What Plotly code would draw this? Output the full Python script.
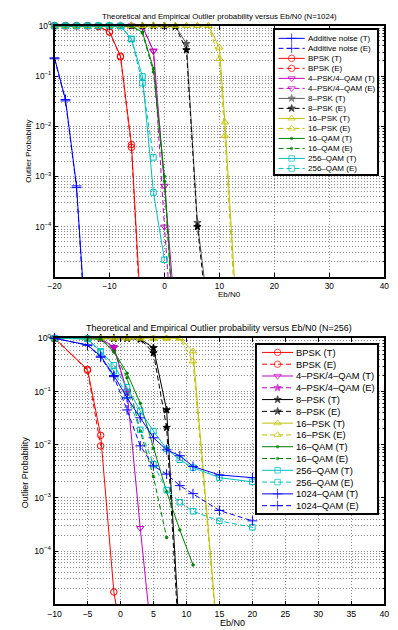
import plotly.graph_objects as go

W, H = 398, 630

# ---------------- data: top panel (N=1024) ----------------
t_noise_x = [-20, -18, -16, -14]
t_noise_T = [0.23, 0.034, 6.5e-4, 3e-7]
t_noise_E = [0.22, 0.032, 6.0e-4, 2e-7]

t_bpsk_x = [-20, -18, -16, -14, -12, -10, -8, -6, -4]
t_bpsk_T = [1, 1, 1, 1, 0.97, 0.76, 0.25, 4.3e-3, 5e-7]
t_bpsk_E = [1, 1, 1, 1, 0.97, 0.75, 0.24, 3.8e-3, 3e-7]

t_qpsk_x = [-20, -18, -16, -14, -12, -10, -8, -6, -4, -2, 0, 2]
t_qpsk_T = [1, 1, 1, 1, 1, 1, 1, 1, 0.97, 0.32, 6.5e-4, 1.5e-6]
t_qpsk_E = [1, 1, 1, 1, 1, 1, 1, 1, 0.96, 0.31, 1.0e-4, 1e-7]

t_psk8_x = [-20, -18, -16, -14, -12, -10, -8, -6, -4, -2, 0, 2, 4, 6, 8]
t_psk8_T = [1, 1, 1, 1, 1, 1, 1, 1, 1, 1, 1, 0.98, 0.44, 1.2e-4, 2e-6]
t_psk8_E = [1, 1, 1, 1, 1, 1, 1, 1, 1, 1, 1, 0.97, 0.33, 1.0e-4, 1e-6]

t_psk16_x = [-20, -18, -16, -14, -12, -10, -8, -6, -4, -2, 0, 2, 4, 6, 8, 10, 11, 14]
t_psk16_T = [1, 1, 1, 1, 1, 1, 1, 1, 1, 1, 1, 1, 1, 1, 1, 0.37, 0.012, 4.5e-8]
t_psk16_E = [1, 1, 1, 1, 1, 1, 1, 1, 1, 1, 1, 1, 1, 1, 1, 0.22, 6.5e-3, 2e-8]

t_qam16_x = [-20, -18, -16, -14, -12, -10, -8, -6, -4, -2, 0, 2]
t_qam16_T = [1, 1, 1, 1, 1, 1, 1, 0.99, 0.75, 0.14, 1.0e-3, 3e-7]
t_qam16_E = [1, 1, 1, 1, 1, 1, 1, 0.99, 0.72, 0.12, 8.0e-4, 2e-7]

t_qam256_xT = [-20, -18, -16, -14, -12, -10, -8, -6, -4, -2, 0]
t_qam256_T = [1, 1, 1, 1, 1, 1, 0.99, 0.55, 0.098, 4.8e-4, 2.2e-5]
t_qam256_xE = [-20, -18, -16, -14, -12, -10, -8, -6, -4, -2]
t_qam256_E = [1, 1, 1, 1, 1, 1, 0.99, 0.54, 0.072, 2.4e-3]

# ---------------- data: bottom panel (N=256) ----------------
b_x = [-10, -5, -3, -1, 1, 3, 5, 7, 9, 11, 15, 20]

b_bpsk_xT = [-10, -5, -3, -1, 1]
b_bpsk_T = [1, 0.26, 0.015, 1.7e-5, 6e-7]
b_bpsk_xE = [-10, -5, -3]
b_bpsk_E = [1, 0.25, 0.0095]

b_qpsk_xT = [-10, -5, -3, -1, 1, 3, 5]
b_qpsk_T = [1, 1, 0.99, 0.68, 0.10, 2.7e-4, 1.1e-6]
b_qpsk_xE = [-10, -5, -3, -1, 1]
b_qpsk_E = [1, 1, 0.99, 0.66, 0.095]

b_psk8_x = [-10, -5, -3, -1, 1, 3, 5, 7, 9]
b_psk8_T = [1, 1, 1, 1, 1, 0.97, 0.66, 0.045, 2e-6]
b_psk8_E = [1, 1, 1, 1, 1, 0.96, 0.53, 0.021, 1e-6]

b_psk16_x = [-10, -5, -3, -1, 1, 3, 5, 7, 9, 11, 15]
b_psk16_T = [1, 1, 1, 1, 1, 1, 1, 1, 1, 0.57, 1e-6]
b_psk16_E = [1, 1, 1, 1, 1, 1, 1, 1, 1, 0.37, 8e-7]

b_qam16_xT = [-10, -5, -3, -1, 1, 3, 5, 7, 9, 11]
b_qam16_T = [1, 1, 0.97, 0.57, 0.22, 0.06, 0.0085, 1.3e-3, 2.5e-4, 5.5e-5]
b_qam16_xE = [-10, -5, -3, -1, 1, 3, 5, 7]
b_qam16_E = [1, 1, 0.97, 0.55, 0.18, 0.018, 2.5e-3, 1.8e-4]

b_qam256_T = [1, 0.98, 0.57, 0.31, 0.12, 0.043, 0.018, 0.0083, 0.0052, 0.0037, 0.0024, 0.0020]
b_qam256_E = [1, 0.97, 0.55, 0.24, 0.083, 0.019, 0.0043, 0.0014, 8.3e-4, 5.6e-4, 3.7e-4, 2.8e-4]

b_qam1024_T = [1, 0.75, 0.46, 0.20, 0.076, 0.032, 0.0135, 0.0080, 0.0062, 0.0039, 0.0027, 0.0024]
b_qam1024_E = [1, 0.74, 0.44, 0.19, 0.045, 0.0095, 0.0040, 0.0028, 0.0017, 0.0012, 5.8e-4, 3.7e-4]

# tick labels
top_xticks = [-20, -10, 0, 10, 20, 30, 40]
bot_xticks = [-10, -5, 0, 5, 10, 15, 20, 25, 30, 35, 40]
y_ticks = [1e-4, 1e-3, 1e-2, 1e-1, 1]
y_ticktext = ["10<sup>\u22124</sup>", "10<sup>\u22123</sup>", "10<sup>\u22122</sup>",
              "10<sup>\u22121</sup>", "10<sup>0</sup>"]

# ---------------- styles ----------------
BLUE, RED, MAG, GRAY, BLK = "#0000ff", "#ff0000", "#c000c0", "#5a5a5a", "#000000"
YEL, GRN, CYA = "#c0c000", "#008000", "#00bfbf"
DASH = "5px,3px"
FONT = "Liberation Sans, Arial, sans-serif"

top_series = [
    ("Additive noise (T)", t_noise_x, t_noise_T, BLUE, "solid", "cross-thin-open", 7),
    ("Additive noise (E)", t_noise_x, t_noise_E, BLUE, DASH, "cross-thin-open", 7),
    ("BPSK (T)", t_bpsk_x, t_bpsk_T, RED, "solid", "circle-open", 6.5),
    ("BPSK (E)", t_bpsk_x, t_bpsk_E, RED, DASH, "circle-open", 6.5),
    ("4\u2013PSK/4\u2013QAM (T)", t_qpsk_x, t_qpsk_T, MAG, "solid", "triangle-down-open", 6.5),
    ("4\u2013PSK/4\u2013QAM (E)", t_qpsk_x, t_qpsk_E, MAG, DASH, "triangle-down-open", 6.5),
    ("8\u2013PSK (T)", t_psk8_x, t_psk8_T, GRAY, "solid", "star", 5.5),
    ("8\u2013PSK (E)", t_psk8_x, t_psk8_E, BLK, DASH, "star", 5.5),
    ("16\u2013PSK (T)", t_psk16_x, t_psk16_T, YEL, "solid", "triangle-up-open", 6.5),
    ("16\u2013PSK (E)", t_psk16_x, t_psk16_E, YEL, DASH, "triangle-up-open", 6.5),
    ("16\u2013QAM (T)", t_qam16_x, t_qam16_T, GRN, "solid", "circle", 2.5),
    ("16\u2013QAM (E)", t_qam16_x, t_qam16_E, GRN, DASH, "circle", 2.5),
    ("256\u2013QAM (T)", t_qam256_xT, t_qam256_T, CYA, "solid", "square-open", 5.5),
    ("256\u2013QAM (E)", t_qam256_xE, t_qam256_E, CYA, DASH, "square-open", 5.5),
]

bot_series = [
    ("BPSK (T)", b_bpsk_xT, b_bpsk_T, RED, "solid", "circle-open", 6.5),
    ("BPSK (E)", b_bpsk_xE, b_bpsk_E, RED, DASH, "circle-open", 6.5),
    ("4\u2013PSK/4\u2013QAM (T)", b_qpsk_xT, b_qpsk_T, MAG, "solid", "triangle-down-open", 6.5),
    ("4\u2013PSK/4\u2013QAM (E)", b_qpsk_xE, b_qpsk_E, MAG, DASH, "star", 5.5),
    ("8\u2013PSK (T)", b_psk8_x, b_psk8_T, BLK, "solid", "star", 5.5),
    ("8\u2013PSK (E)", b_psk8_x, b_psk8_E, BLK, DASH, "star", 5.5),
    ("16\u2013PSK (T)", b_psk16_x, b_psk16_T, YEL, "solid", "triangle-up-open", 6.5),
    ("16\u2013PSK (E)", b_psk16_x, b_psk16_E, YEL, DASH, "triangle-up-open", 6.5),
    ("16\u2013QAM (T)", b_qam16_xT, b_qam16_T, GRN, "solid", "circle", 2.5),
    ("16\u2013QAM (E)", b_qam16_xE, b_qam16_E, GRN, DASH, "circle", 2.5),
    ("256\u2013QAM (T)", b_x, b_qam256_T, CYA, "solid", "square-open", 5.5),
    ("256\u2013QAM (E)", b_x, b_qam256_E, CYA, DASH, "square-open", 5.5),
    ("1024\u2013QAM (T)", b_x, b_qam1024_T, BLUE, "solid", "cross-thin-open", 7),
    ("1024\u2013QAM (E)", b_x, b_qam1024_E, BLUE, DASH, "cross-thin-open", 7),
]

fig = go.Figure()


def marker(color, symbol, size):
    return dict(symbol=symbol, size=size, color=color, line=dict(color=color, width=1))


def add_series(series, xa, ya):
    for name, xs, ys, color, dash, sym, ms in series:
        fig.add_trace(go.Scatter(x=xs, y=ys, mode="lines", xaxis=xa, yaxis=ya,
                                 line=dict(color=color, width=1, dash=dash),
                                 showlegend=False, hoverinfo="skip"))
        keep = [(x, y) for x, y in zip(xs, ys) if y >= 0.99e-5]
        fig.add_trace(go.Scatter(x=[k[0] for k in keep], y=[k[1] for k in keep],
                                 mode="markers", xaxis=xa, yaxis=ya, cliponaxis=False,
                                 marker=marker(color, sym, ms), showlegend=False,
                                 name=name))


add_series(top_series, "x", "y")
add_series(bot_series, "x2", "y2")


def add_legend(series, xa, ya, y0, step, x0, x1, xt, fsize):
    anns = []
    for i, (name, xs, ys, color, dash, sym, ms) in enumerate(series):
        yy = y0 + i * step
        fig.add_trace(go.Scatter(x=[x0, (x0 + x1) / 2, x1], y=[yy, yy, yy],
                                 mode="lines+markers", xaxis=xa, yaxis=ya,
                                 line=dict(color=color, width=1, dash=dash),
                                 marker=dict(symbol=sym, size=[0, ms, 0], color=color,
                                             line=dict(color=color, width=1)),
                                 showlegend=False, hoverinfo="skip"))
        anns.append(dict(x=xt, y=yy, xref=xa, yref=ya, text=name, showarrow=False,
                         xanchor="left", yanchor="middle",
                         font=dict(family=FONT, size=fsize, color="black")))
    return anns


anns = []
anns += add_legend(top_series, "x3", "y3", 8.7, 10.12, 4, 31, 32, 8)
anns += add_legend(bot_series, "x4", "y4", 7.3, 11.92, 5, 37, 38, 9.4)


def pxX(px):
    return px / W


def pxY(py):
    return 1 - py / H


grid = dict(showgrid=True, gridcolor="#8a8a8a", gridwidth=1, griddash="1px,2px")
axis_common = dict(showline=True, linecolor="black", linewidth=1.5, mirror="ticks",
                   ticks="inside", ticklen=4, tickcolor="black", zeroline=False,
                   tickfont=dict(family=FONT, size=8.5, color="black"))

minor_vals = [m * 10 ** e for e in range(-5, 0) for m in range(2, 10)]


def yaxis(domain, fs):
    d = dict(axis_common)
    d.update(grid)
    d.update(type="log", range=[-5, 0], domain=domain, tickmode="array",
             tickvals=y_ticks, ticktext=y_ticktext,
             tickfont=dict(family=FONT, size=fs, color="black"),
             minor=dict(tickmode="array", tickvals=minor_vals, ticks="inside", ticklen=2,
                        tickcolor="black", showgrid=True, gridcolor="#8a8a8a",
                        griddash="1px,2px", gridwidth=1))
    return d


def xaxis(domain, rng, ticks, fs, anchor):
    d = dict(axis_common)
    d.update(grid)
    d.update(range=rng, domain=domain, tickmode="array", tickvals=ticks,
             ticktext=[str(t).replace("-", "\u2212") for t in ticks], anchor=anchor,
             tickfont=dict(family=FONT, size=fs, color="black"))
    return d


xdom = [pxX(49), pxX(389)]
top_ydom = [pxY(273), pxY(19)]
bot_ydom = [pxY(604), pxY(335)]

leg_axis = dict(showgrid=False, zeroline=False, showticklabels=False, ticks="",
                showline=True, linecolor="black", linewidth=1.5, mirror=True)

fig.update_layout(
    width=W, height=H, margin=dict(l=0, r=0, t=0, b=0),
    paper_bgcolor="white", plot_bgcolor="white", showlegend=False,
    xaxis=xaxis(xdom, [-20, 40], top_xticks, 8.3, "y"),
    yaxis=yaxis(top_ydom, 8.3) | dict(anchor="x"),
    xaxis2=xaxis(xdom, [-10, 40], bot_xticks, 8.8, "y2"),
    yaxis2=yaxis(bot_ydom, 8.8) | dict(anchor="x2"),
    xaxis3=dict(leg_axis, domain=[pxX(276), pxX(382)], range=[0, 106], anchor="y3"),
    yaxis3=dict(leg_axis, domain=[pxY(169), pxY(23)], range=[146, 0], anchor="x3"),
    xaxis4=dict(leg_axis, domain=[pxX(258), pxX(382)], range=[0, 124], anchor="y4"),
    yaxis4=dict(leg_axis, domain=[pxY(512), pxY(342)], range=[170, 0], anchor="x4"),
)

text_anns = [
    dict(x=pxX(219), y=pxY(10), text="Theoretical and Empirical Outlier probability versus Eb/N0 (N=1024)",
         size=7.8),
    dict(x=pxX(219), y=pxY(325), text="Theoretical and Empirical Outlier probability versus Eb/N0 (N=256)",
         size=9),
    dict(x=pxX(229), y=pxY(291), text="Eb/N0", size=8),
    dict(x=pxX(232), y=pxY(623), text="Eb/N0", size=9),
]
for t in text_anns:
    anns.append(dict(x=t["x"], y=t["y"], xref="paper", yref="paper", text=t["text"],
                     showarrow=False, xanchor="center", yanchor="middle",
                     font=dict(family=FONT, size=t["size"], color="black")))
for cy, fs, cx in [(146, 8, 22), (470, 9, 18)]:
    anns.append(dict(x=pxX(cx), y=pxY(cy), xref="paper", yref="paper",
                     text="Outlier Probability", textangle=-90, showarrow=False,
                     xanchor="center", yanchor="middle",
                     font=dict(family=FONT, size=fs, color="black")))

fig.update_layout(annotations=anns)
fig.write_html("out.html", config={"displayModeBar": False},
               post_script="document.body.style.margin='0px';document.body.style.overflow='hidden';")
